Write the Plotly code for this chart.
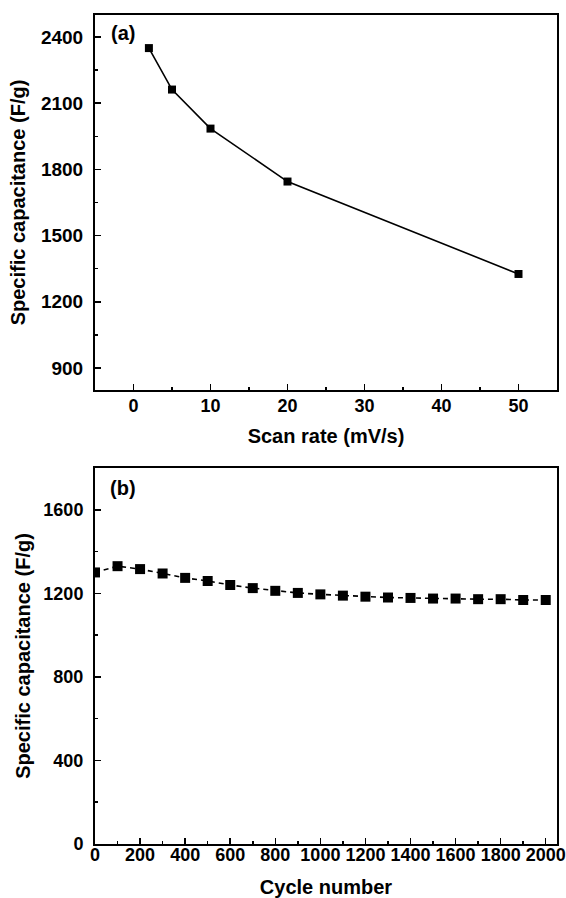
import plotly.graph_objects as go

# Panel (a)
scan_rate = [2, 5, 10, 20, 50]
cap_a = [2350, 2162, 1985, 1745, 1326]

# Panel (b)
cycles = [0, 100, 200, 300, 400, 500, 600, 700, 800, 900, 1000,
          1100, 1200, 1300, 1400, 1500, 1600, 1700, 1800, 1900, 2000]
cap_b = [1300, 1330, 1316, 1295, 1274, 1259, 1240, 1225, 1212, 1202, 1195,
         1189, 1184, 1180, 1178, 1175, 1175, 1172, 1172, 1168, 1168]

FONT = "Liberation Sans, Arial, sans-serif"

W, H = 566, 898


def fx(px):
    return px / W


def fy(py):
    return 1 - py / H


fig = go.Figure()
fig.add_trace(go.Scatter(x=scan_rate, y=cap_a, mode="lines+markers",
                         line=dict(color="black", width=1.6),
                         marker=dict(symbol="square", size=8, color="black"),
                         xaxis="x", yaxis="y", showlegend=False))
fig.add_trace(go.Scatter(x=cycles, y=cap_b, mode="lines+markers",
                         line=dict(color="black", width=1.6, dash="5px,4px"),
                         marker=dict(symbol="square", size=10, color="black"),
                         xaxis="x2", yaxis="y2", showlegend=False))


def axis_common(tsize=18):
    return dict(showline=True, linecolor="black", linewidth=2, mirror=True,
                ticks="inside", tickcolor="black", tickwidth=1.5, ticklen=6,
                showgrid=False, zeroline=False, automargin=False,
                ticklabeloverflow="allow",
                tickfont=dict(family=FONT, size=tsize, color="black", weight="bold"),
                title_font=dict(family=FONT, size=20, color="black", weight="bold"))


fig.update_layout(
    width=W, height=H,
    margin=dict(l=0, r=0, t=0, b=0),
    paper_bgcolor="white", plot_bgcolor="white",
    hovermode=False,
    xaxis=dict(domain=[fx(95), fx(557)], anchor="y", range=[-5, 55],
               tickvals=[0, 10, 20, 30, 40, 50], ticklabelstandoff=-2,
               minor=dict(ticks="inside", ticklen=3, tickcolor="black", dtick=5, tick0=0),
               title=dict(text="Scan rate (mV/s)", standoff=14), **axis_common(18)),
    yaxis=dict(domain=[fy(390), fy(15)], anchor="x", range=[800, 2500],
               tickvals=[900, 1200, 1500, 1800, 2100, 2400], ticklabelstandoff=6,
               minor=dict(ticks="inside", ticklen=3, tickcolor="black", dtick=150, tick0=0),
               title=dict(text="Specific capacitance (F/g)", standoff=10), **axis_common(19)),
    xaxis2=dict(domain=[fx(95), fx(557)], anchor="y2", range=[0, 2050],
                tickvals=list(range(0, 2001, 200)), ticklabelstandoff=-7,
                minor=dict(ticks="inside", ticklen=3, tickcolor="black", dtick=100, tick0=0),
                title=dict(text="Cycle number", standoff=16), **axis_common(18)),
    yaxis2=dict(domain=[fy(844), fy(468)], anchor="x2", range=[0, 1800],
                tickvals=[0, 400, 800, 1200, 1600], ticklabelstandoff=6,
                minor=dict(ticks="inside", ticklen=3, tickcolor="black", dtick=200, tick0=0),
                title=dict(text="Specific capacitance (F/g)", standoff=7), **axis_common(18)),
    annotations=[
        dict(text="(a)", x=fx(109), y=fy(33), xref="paper", yref="paper",
             xanchor="left", yanchor="middle", showarrow=False,
             font=dict(family=FONT, size=20, color="black", weight="bold")),
        dict(text="(b)", x=fx(108), y=fy(488), xref="paper", yref="paper",
             xanchor="left", yanchor="middle", showarrow=False,
             font=dict(family=FONT, size=20, color="black", weight="bold")),
    ],
)

# remove the browser's default 8px page margin so the figure fills the window
fig.write_html("out.html",
               config={"displayModeBar": False, "staticPlot": True},
               post_script="document.body.style.margin='0';document.body.style.overflow='hidden';")
